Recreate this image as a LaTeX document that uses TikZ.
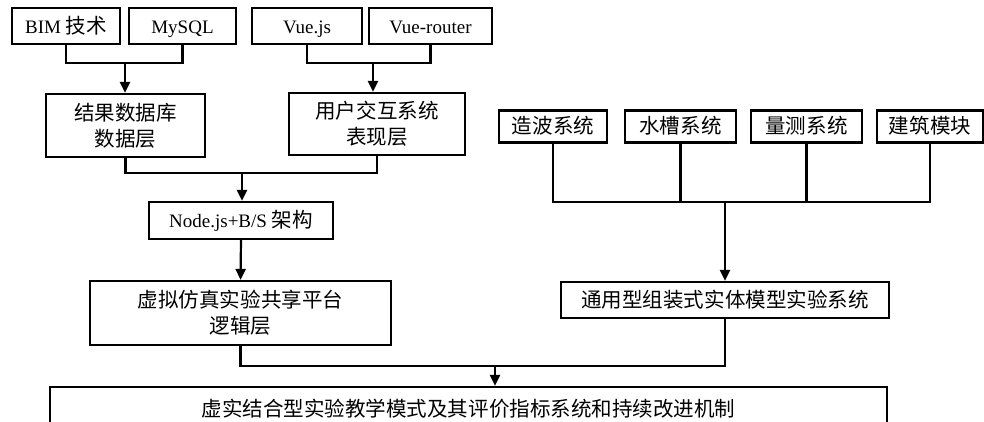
\documentclass[tikz,border=0pt]{standalone}
\usepackage{fontspec}
\setmainfont{Liberation Serif}
\newfontfamily\cjk[Scale=1.08]{Noto Sans CJK SC}
\usetikzlibrary{arrows.meta}
\begin{document}
\begin{tikzpicture}[x=1pt,y=-1pt,
  box/.style={draw,line width=2.2pt,inner sep=0pt,align=center,
    font=\fontsize{19}{26}\selectfont},
  one/.style={text height=16pt,text depth=2pt},
  conn/.style={line width=2.2pt},
  arr/.style={line width=2.2pt,-{Triangle[length=11pt,width=10pt]}}]
\useasboundingbox (0,0) rectangle (984,421);
\begin{scope}
\clip (0,0) rectangle (984,421);
% top-left inputs
\node[box,one,minimum width=108,minimum height=36] (bim) at (66,26) {BIM {\cjk 技术}};
\node[box,one,minimum width=107,minimum height=36] (mysql) at (182.5,26) {MySQL};
\node[box,one,minimum width=110,minimum height=36] (vue) at (307,26) {Vue.js};
\node[box,one,minimum width=123,minimum height=36] (vuer) at (430.5,26) {Vue-router};
\node[box,minimum width=159,minimum height=63] (db) at (125.5,125.5) {{\cjk 结果数据库}\\{\cjk 数据层}};
\node[box,minimum width=176,minimum height=62] (ui) at (377,124) {{\cjk 用户交互系统}\\{\cjk 表现层}};
\node[box,one,minimum width=184,minimum height=37] (nodejs) at (241,220.5) {Node.js+B/S {\cjk 架构}};
\node[box,minimum width=301,minimum height=64] (vsim) at (240.5,313) {{\cjk 虚拟仿真实验共享平台}\\{\cjk 逻辑层}};
% right side
\node[box,one,minimum width=108,minimum height=32] (wave) at (553,126.5) {\cjk 造波系统};
\node[box,one,minimum width=111,minimum height=32] (tank) at (680.5,126.5) {\cjk 水槽系统};
\node[box,one,minimum width=111,minimum height=32] (meas) at (806.5,126.5) {\cjk 量测系统};
\node[box,one,minimum width=106,minimum height=32] (bld) at (930,126.5) {\cjk 建筑模块};
\node[box,one,minimum width=328,minimum height=36] (phys) at (725,300) {\cjk 通用型组装式实体模型实验系统};
% bottom
\node[box,one,minimum width=837,minimum height=44] (final) at (468.5,409) {\cjk 虚实结合型实验教学模式及其评价指标系统和持续改进机制};
% junctions
\coordinate (j1) at (125,63);
\coordinate (j2) at (373,63);
\coordinate (j3) at (242,173);
\coordinate (j4) at (725,202);
\coordinate (j5) at (495,366);
% connectors
\draw[conn] (bim.south) |- (j1) -| (mysql.south);
\draw[arr] (j1) -- (j1 |- db.north);
\draw[conn] (vue.south) |- (j2) -| (vuer.south);
\draw[arr] (j2) -- (j2 |- ui.north);
\draw[conn] (db.south) |- (j3) -| (ui.south);
\draw[arr] (j3) -- (j3 |- nodejs.north);
\draw[arr] (nodejs.south) -- (vsim.north);
\draw[conn] (wave.south) |- (j4) -| (bld.south);
\draw[conn] (tank.south) -- (tank.south |- j4);
\draw[conn] (meas.south) -- (meas.south |- j4);
\draw[arr] (j4) -- (phys.north);
\draw[conn] (vsim.south) |- (j5) -| (phys.south);
\draw[arr] (j5) -- (j5 |- final.north);
\end{scope}
\end{tikzpicture}
\end{document}
